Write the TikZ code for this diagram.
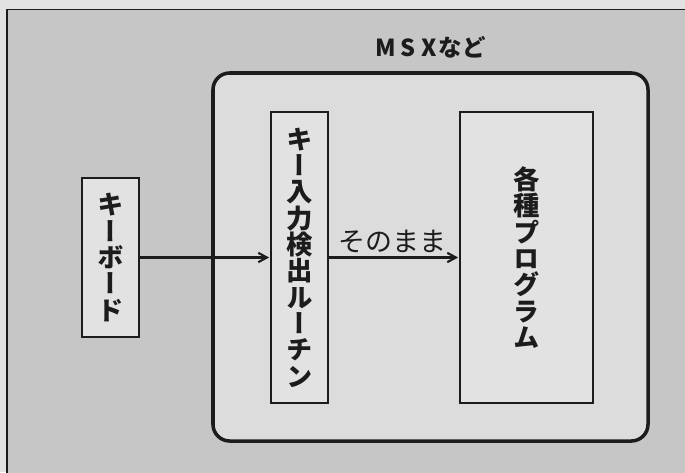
\documentclass[tikz,border=0pt]{standalone}
\usepackage{fontspec}
\newfontfamily\jpfont{Noto Sans CJK JP}
\newfontfamily\jpvert[RawFeature=+vert]{Noto Sans CJK JP}
\usetikzlibrary{arrows.meta, positioning}
\definecolor{cInk}{HTML}{1C1C1C}
\definecolor{cPaper}{HTML}{E2E2E2}
\definecolor{cPanel}{HTML}{C6C6C6}
\definecolor{cHost}{HTML}{DCDCDC}
\definecolor{cBlk}{HTML}{E2E2E2}
\newcommand{\tatefont}{\jpvert\bfseries\fontsize{22.5}{22.5}\selectfont}
\tikzset{
  blk/.style={rectangle, draw=cInk, line width=1.1pt, fill=cBlk, align=center, inner sep=0pt,
              font=\tatefont, text=cInk},
  host/.style={rectangle, rounded corners=0.5cm, draw=cInk, line width=3pt, fill=cHost,
               minimum width=13.05cm, minimum height=11.04cm},
  flow/.style={-{Straight Barb[length=2.6mm, width=2.8mm]}, line width=1.8pt, draw=cInk},
  lab/.style={font=\jpfont\fontsize{23}{23}\selectfont, text=cInk, inner sep=1pt},
}

\begin{document}
\begin{tikzpicture}[x=0.03cm, y=-0.03cm]
  \useasboundingbox[fill=cPaper] (0,0) rectangle (685,472);
  % ---- page panel, running off the right and bottom edges
  \begin{scope}
    \clip (0,0) rectangle (685,472);
    \draw[cInk, line width=1pt, fill=cPanel] (7,9.5) rectangle (700,490);
  \end{scope}

  % ---- host machine and its title
  \node[host] (msx) at (430.5,257) {};
  \node[lab, font=\jpfont\bfseries\fontsize{20}{20}\selectfont, above=0.36cm of msx] (msxlab)
       {M\hspace{0.22em}S\hspace{0.22em}X\hspace{0.1em}など};

  % ---- blocks (one character per line)
  \node[blk, minimum width=1.71cm, minimum height=4.77cm] (kbd) at (110.5,257.5)
       {キ\\ー\\ボ\\ー\\ド};
  \node[blk, minimum width=1.71cm, minimum height=8.73cm] (detect) at (299.5,257.5)
       {キ\\ー\\入\\力\\検\\出\\ル\\ー\\チ\\ン};
  \node[blk, minimum width=3.99cm, minimum height=8.73cm] (prog) at (526.5,257.5)
       {各\\種\\プ\\ロ\\グ\\ラ\\ム};

  % ---- key path
  \draw[flow, shorten >=1pt] (kbd) -- (detect);
  \draw[flow, shorten >=1pt] (detect) -- node[lab, above=2pt, pos=0.49] (asis) {そのまま} (prog);
\end{tikzpicture}
\end{document}
